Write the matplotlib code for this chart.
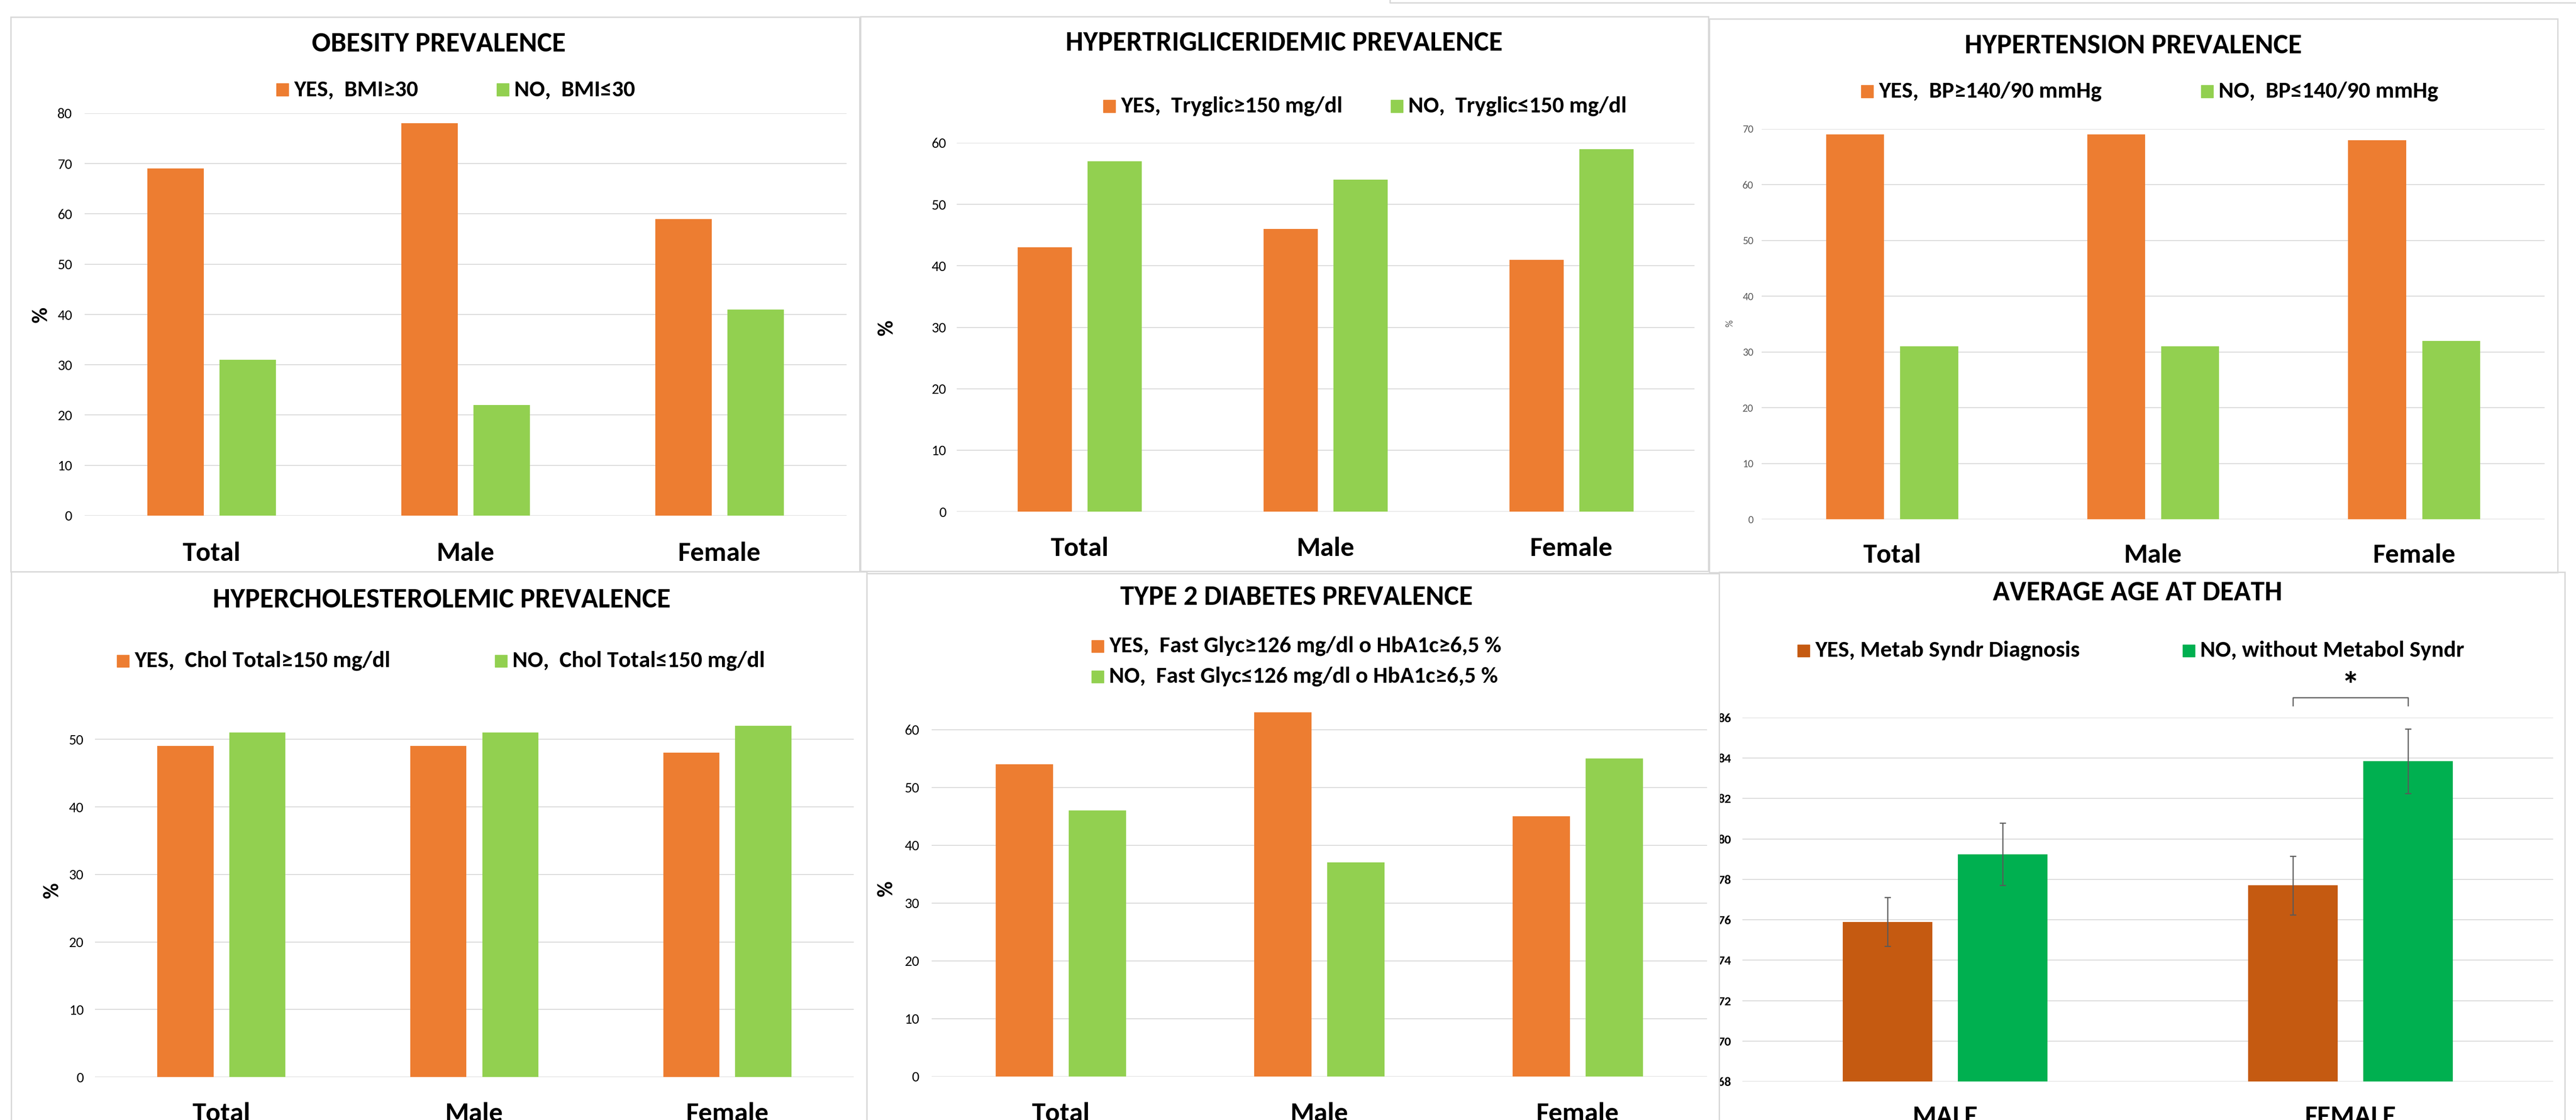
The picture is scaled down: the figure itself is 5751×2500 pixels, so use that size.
import matplotlib
matplotlib.use('Agg')
import matplotlib.pyplot as plt
from matplotlib.patches import Rectangle
from matplotlib.lines import Line2D
import numpy as np

plt.rcParams['font.family'] = ['Carlito', 'Lato', 'DejaVu Sans']

# prevalence panels: share of patients (%) per group
groups = ['Total', 'Male', 'Female']
obesity_yes = [69, 78, 59]
obesity_no = [31, 22, 41]
trig_yes = [43, 46, 41]
trig_no = [57, 54, 59]
hyper_yes = [69, 69, 68]
hyper_no = [31, 31, 32]
chol_yes = [49, 49, 48]
chol_no = [51, 51, 52]
diab_yes = [54, 63, 45]
diab_no = [46, 37, 55]

# average age at death, with error bars
sexes = ['MALE', 'FEMALE']
age_yes = [75.9, 77.7]
age_no = [79.25, 83.85]
age_yes_err = [1.2, 1.45]
age_no_err = [1.55, 1.6]

ORANGE = '#ED7D31'
LGREEN = '#92D050'
DORANGE = '#C55A11'
GREEN = '#00B050'
GRID = '#D9D9D9'

BAR_W = 0.222
OFF = 0.142

W, H = 5751, 2500
fig = plt.figure(figsize=(W / 100, H / 100), dpi=100)


def fx(x):
    return x / W


def fy(y):
    return 1 - y / H


def make_axes(x0, x1, ytop, ybot):
    return fig.add_axes([fx(x0), fy(ybot), fx(x1) - fx(x0), fy(ytop) - fy(ybot)])


def bar_panel(ax, cats, yes, no, c_yes, c_no, ylim, ticks, tsize, tcolor, tweight,
              ypad, xpad, yes_err=None, no_err=None):
    x = np.arange(len(cats))
    ekw = dict(ecolor='#595959', elinewidth=1.8, capsize=5, capthick=1.8)
    ax.bar(x - OFF, yes, BAR_W, color=c_yes, yerr=yes_err, error_kw=ekw)
    ax.bar(x + OFF, no, BAR_W, color=c_no, yerr=no_err, error_kw=ekw)
    ax.set_xlim(-0.5, len(cats) - 0.5)
    ax.set_ylim(*ylim)
    ax.set_yticks(ticks)
    ax.set_yticklabels([str(t) for t in ticks], fontsize=tsize, color=tcolor, fontweight=tweight)
    ax.set_xticks(x)
    ax.set_xticklabels(cats, fontsize=44, fontweight='bold')
    ax.tick_params(axis='y', length=0, pad=ypad)
    ax.tick_params(axis='x', length=0, pad=xpad)
    ax.grid(axis='y', color=GRID, linewidth=1.5)
    ax.set_axisbelow(True)
    for s in ax.spines.values():
        s.set_visible(False)


def title(x, y, text):
    fig.text(fx(x), fy(y), text, ha='center', va='center', fontsize=45, fontweight='bold')


def legend_entry(x, y, color, label, size=37):
    sq = 27
    fig.patches.append(Rectangle((fx(x), fy(y + sq / 2)), sq / W, sq / H,
                                 transform=fig.transFigure, color=color, zorder=3))
    fig.text(fx(x + sq + 12), fy(y), label, ha='left', va='center',
             fontsize=size, fontweight='bold')


def pct_label(x, y, size=35, color='black', weight='bold'):
    fig.text(fx(x), fy(y), '%', rotation=90, ha='center', va='center',
             fontsize=size, color=color, fontweight=weight)


# obesity
ax1 = make_axes(189, 1890, 253, 1151)
bar_panel(ax1, groups, obesity_yes, obesity_no, ORANGE, LGREEN, (0, 80), range(0, 81, 10),
          23.5, 'black', 'normal', 20, 42)
title(979, 98, 'OBESITY PREVALENCE')
legend_entry(617, 200, ORANGE, 'YES,  BMI≥30')
legend_entry(1109, 200, LGREEN, 'NO,  BMI≤30')
pct_label(92, 702)

# triglycerides
ax2 = make_axes(2136, 3783, 319, 1142)
bar_panel(ax2, groups, trig_yes, trig_no, ORANGE, LGREEN, (0, 60), range(0, 61, 10),
          23.5, 'black', 'normal', 17, 40)
title(2867, 96, 'HYPERTRIGLICERIDEMIC PREVALENCE')
legend_entry(2463, 237, ORANGE, 'YES,  Tryglic≥150 mg/dl')
legend_entry(3105, 237, LGREEN, 'NO,  Tryglic≤150 mg/dl')
pct_label(1980, 731)

# hypertension
ax3 = make_axes(3933, 5681, 288, 1159)
bar_panel(ax3, groups, hyper_yes, hyper_no, ORANGE, LGREEN, (0, 70), range(0, 71, 10),
          17.5, '#595959', 'normal', 13, 39)
title(4762, 102, 'HYPERTENSION PREVALENCE')
legend_entry(4155, 204, ORANGE, 'YES,  BP≥140/90 mmHg')
legend_entry(4914, 204, LGREEN, 'NO,  BP≤140/90 mmHg')
pct_label(3862, 722, size=16, color='#595959', weight='normal')

# cholesterol
ax4 = make_axes(212, 1906, 1590, 2404)
bar_panel(ax4, groups, chol_yes, chol_no, ORANGE, LGREEN, (0, 54), range(0, 51, 10),
          23.5, 'black', 'normal', 18, 40)
title(986, 1339, 'HYPERCHOLESTEROLEMIC PREVALENCE')
legend_entry(261, 1475, ORANGE, 'YES,  Chol Total≥150 mg/dl')
legend_entry(1105, 1475, LGREEN, 'NO,  Chol Total≤150 mg/dl')
pct_label(117, 1987)

# diabetes
ax5 = make_axes(2080, 3811, 1564, 2403)
bar_panel(ax5, groups, diab_yes, diab_no, ORANGE, LGREEN, (0, 65), range(0, 61, 10),
          23.5, 'black', 'normal', 20, 41)
title(2894, 1333, 'TYPE 2 DIABETES PREVALENCE')
legend_entry(2437, 1442, ORANGE, 'YES,  Fast Glyc≥126 mg/dl o HbA1c≥6,5 %')
legend_entry(2437, 1510, LGREEN, 'NO,  Fast Glyc≤126 mg/dl o HbA1c≥6,5 %')
pct_label(1979, 1983)

# age at death
ax6 = make_axes(3890, 5700, 1602, 2414)
bar_panel(ax6, sexes, age_yes, age_no, DORANGE, GREEN, (68, 86), range(68, 87, 2),
          21, 'black', 'bold', 18, 38, yes_err=age_yes_err, no_err=age_no_err)
title(4772, 1323, 'AVERAGE AGE AT DEATH')
legend_entry(4013, 1452, DORANGE, 'YES, Metab Syndr Diagnosis')
legend_entry(4873, 1452, GREEN, 'NO, without Metabol Syndr')

# significance bracket between female bars
xl, xr = 1 - OFF, 1 + OFF
ax6.plot([xl, xl, xr, xr], [86.6, 87.0, 87.0, 86.6], color='#595959', lw=1.8, clip_on=False)
ax6.text(1, 87.5, '*', ha='center', va='center', fontsize=58, fontweight='bold')

# white gap between panels hides the clipped first digit of the age ticks
fig.patches.append(Rectangle((fx(3813), 0), fx(3838) - fx(3813), fy(1400),
                             transform=fig.transFigure, color='white', zorder=5))

# panel frames
frames = [(24, 38, 1919, 1276), (1921, 37, 3814, 1275), (3816, 42, 5710, 1278),
          (25, 1276, 1935, 2520), (1935, 1280, 3838, 2520), (3838, 1277, 5726, 2520)]
for x0, y0, x1, y1 in frames:
    fig.patches.append(Rectangle((fx(x0), fy(y1)), fx(x1) - fx(x0), fy(y0) - fy(y1),
                                 transform=fig.transFigure, fill=False,
                                 edgecolor=GRID, linewidth=2.2, zorder=6))
fig.lines.append(Line2D([fx(3103), fx(3103), 1.0], [1.0, fy(6), fy(6)],
                        transform=fig.transFigure, color=GRID, linewidth=2.2, zorder=6))

fig.savefig('out.png', dpi=100, facecolor='white')
